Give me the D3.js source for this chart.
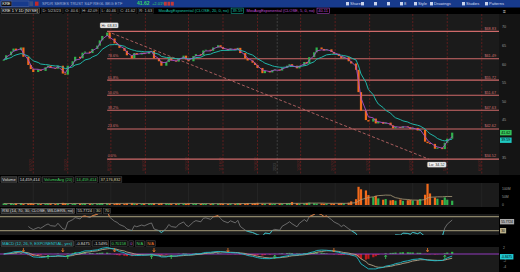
<!DOCTYPE html>
<html>
<head>
<meta charset="utf-8">
<script src="https://cdn.jsdelivr.net/npm/d3@7"></script>
<style>
  body { margin: 0; background: #000; }
  svg { display: block; }
  text { font-family: "Liberation Sans", Arial, sans-serif; }
</style>
</head>
<body>
<div id="chart"></div>
<script>
// closing prices, one bar per two sessions (5/24/22 .. 5/23/23)
var closes = [
  61.2, 62.4, 63.4, 64.2, 63.8, 64.5, 62.0, 59.8, 58.7, 57.9,
  58.6, 58.2, 59.2, 59.6, 59.0, 58.8, 59.6, 57.5, 57.2, 59.6,
  60.8, 62.0, 61.6, 63.1, 63.4, 63.0, 64.1, 65.0, 66.4, 67.6,
  68.5, 66.9, 65.6, 65.2, 64.4, 63.6, 62.4, 61.6, 63.0, 62.6,
  63.1, 62.8, 63.4, 63.6, 61.6, 60.8, 59.6, 60.6, 61.8, 61.0,
  60.7, 61.5, 62.3, 61.3, 60.8, 62.2, 62.7, 62.4, 63.7, 63.9,
  63.6, 64.5, 65.1, 64.6, 64.1, 63.7, 64.2, 63.8, 64.4, 63.0,
  61.6, 61.0, 60.4, 59.8, 59.0, 57.6, 58.2, 57.8, 58.4, 58.6,
  58.3, 59.0, 59.6, 60.0, 59.6, 58.9, 59.6, 60.6, 60.2, 61.9,
  63.2, 64.5, 64.1, 63.7, 64.0, 63.3, 62.8, 62.2, 61.6, 61.9,
  60.8, 60.2, 58.5, 52.5, 47.5, 45.0, 44.6, 45.4, 44.1, 44.5,
  44.0, 44.3, 43.6, 42.8, 43.2, 42.9, 43.3, 43.1, 42.6, 42.9,
  42.2, 42.4, 39.2, 38.8, 38.6, 37.3, 37.6, 37.2, 38.9, 40.0,
  41.62
];

// volume in millions, same bars
var volumes = [
  9, 8, 10, 7, 9, 11, 8, 10, 12, 9,
  8, 7, 9, 8, 10, 7, 9, 13, 11, 8,
  7, 9, 8, 10, 9, 7, 8, 9, 11, 12,
  10, 9, 8, 11, 9, 8, 10, 12, 9, 8,
  7, 9, 8, 10, 11, 9, 12, 10, 8, 9,
  8, 10, 9, 7, 11, 9, 8, 7, 9, 8,
  7, 9, 8, 10, 8, 7, 9, 8, 11, 10,
  9, 12, 10, 11, 13, 9, 8, 10, 7, 8,
  9, 8, 10, 12, 18, 11, 9, 10, 12, 14,
  11, 9, 10, 8, 9, 10, 9, 11, 12, 10,
  14, 22, 35, 110, 95, 88, 60, 48, 55, 40,
  32, 36, 28, 30, 26, 33, 25, 29, 31, 27,
  29, 35, 62, 128, 70, 45, 38, 30, 46, 32,
  26
];

// monthly expiration markers and year break
var expiries = ["2022-06-17", "2022-07-15", "2022-08-19", "2022-09-16", "2022-10-21", "2022-11-18",
  "2022-12-16", "2023-01-20", "2023-02-17", "2023-03-17", "2023-04-21", "2023-05-19", "2023-06-16"];
var expiryLabels = ["6/17/22", "7/15/22", "8/19/22", "9/16/22", "10/21/22", "11/18/22",
  "12/16/22", "1/20/23", "2/17/23", "3/17/23", "4/21/23", "5/19/23", "6/16/23"];
var yearBreak = "2023-01-01";

var priceTicks = [70, 65, 60, 55, 50, 45, 35];
var fibLevels = [1, 0.786, 0.618, 0.5, 0.382, 0.236, 0];
var fibNames = ["", "78.6%", "61.8%", "50.0%", "38.2%", "23.6%", "0.0%"];
var swingHigh = {date: "2022-08-16", price: 68.83};
var swingLow = {date: "2023-05-04", price: 34.52};

var W = 520, H = 272, plotRight = 499;
var upColor = "#2fb24c", downColor = "#f26a1b";

var parse = d3.timeParse("%Y-%m-%d");
var sessions = d3.timeDay.range(parse("2022-05-24"), parse("2023-05-24"))
    .filter(function(d) { var w = d.getDay(); return w > 0 && w < 6; });

var bars = closes.map(function(c, i) {
  return {date: sessions[i * 2], open: i ? closes[i - 1] : c, close: c, vol: volumes[i]};
});

// studies
function ema(vals, n) {
  var a = 2 / (n + 1), e, out = [];
  vals.forEach(function(v, i) { e = i ? e + a * (v - e) : v; out.push(e); });
  return out;
}
var ema20 = ema(closes, 10), ema5 = ema(closes, 2.5);
var ag = 0, al = 0, rsiN = 7;
bars.forEach(function(d, i) {
  d.ema20 = ema20[i]; d.ema5 = ema5[i];
  if (!i) { d.rsi = null; return; }
  var ch = closes[i] - closes[i - 1], g = Math.max(ch, 0), l = Math.max(-ch, 0);
  if (i <= rsiN) { ag += g / rsiN; al += l / rsiN; }
  else { ag = (ag * (rsiN - 1) + g) / rsiN; al = (al * (rsiN - 1) + l) / rsiN; }
  d.rsi = i < rsiN ? null : (al == 0 ? 100 : 100 - 100 / (1 + ag / al));
});
var fast = ema(closes, 6), slow = ema(closes, 13);
var macd = fast.map(function(f, i) { return f - slow[i]; });
var sig = ema(macd, 5);
bars.forEach(function(d, i) {
  d.macd = macd[i]; d.sig = sig[i]; d.hist = macd[i] - sig[i];
  d.volAvg = d3.mean(volumes.slice(Math.max(0, i - 9), i + 1));
});

var svg = d3.select("#chart").append("svg").attr("width", W).attr("height", H);
svg.append("rect").attr("width", W).attr("height", H).attr("fill", "#000");

var x = d3.scaleTime().domain([parse("2022-05-21"), parse("2023-06-30")]).range([0, plotRight]);
var bw = 2.2;

// boxed label helper, returns right edge
function tag(g, x0, y0, txt, color, border, bg, size) {
  var t = g.append("text").attr("x", x0 + 1.3).attr("y", y0).attr("dy", "0.35em")
      .attr("fill", color).style("font-size", (size || 4) + "px").text(txt);
  var w = t.node().getComputedTextLength();
  g.insert("rect", function() { return t.node(); })
      .attr("x", x0).attr("y", y0 - 2.7).attr("width", w + 2.6).attr("height", 5.4)
      .attr("fill", bg || "none").attr("stroke", border || "none").attr("stroke-width", 0.5);
  return x0 + w + 2.6;
}

// ---------- toolbar ----------
var tb = svg.append("g");
tb.append("rect").attr("width", W).attr("height", 7.5).attr("fill", "#173a8b");
tag(tb, 1, 3.7, "KRE", "#fff", "#56689a", "#0b0b0b");
tb.append("rect").attr("x", 1).attr("y", 1).attr("width", 28).attr("height", 5.4).attr("fill", "none").attr("stroke", "#56689a").attr("stroke-width", 0.5);
tb.append("rect").attr("x", 29.5).attr("y", 1.3).attr("width", 3.5).attr("height", 4.8).attr("fill", "#3c4f80");
tb.append("rect").attr("x", 35).attr("y", 1.6).attr("width", 3.5).attr("height", 4.2).attr("fill", "#c0282a");
tb.append("text").attr("x", 42).attr("y", 3.7).attr("dy", "0.35em").attr("fill", "#9fb0d8")
    .style("font-size", "4px").text("SPDR SERIES TRUST S&P REGL BKG ETF");
tb.append("text").attr("x", 137).attr("y", 3.7).attr("dy", "0.35em").attr("fill", "#3ad16a")
    .style("font-size", "5px").style("font-weight", "bold").text("41.62");
tb.append("text").attr("x", 152).attr("y", 3.7).attr("dy", "0.35em").attr("fill", "#3ad16a")
    .style("font-size", "4px").text("+2.01%");
[164, 167.5, 171].forEach(function(px) {
  tb.append("rect").attr("x", px).attr("y", 1.8).attr("width", 2.8).attr("height", 3.8).attr("fill", "#c23a3a");
});
var tools = [[350, "Share"], [365, ""], [378, ""], [391, ""], [404, "8"], [418, "Style"], [434, "Drawings"], [466, "Studies"], [489, "Patterns"]];
tools.forEach(function(t) {
  tb.append("rect").attr("x", t[0] - 4).attr("y", 2).attr("width", 3).attr("height", 3.4).attr("fill", "#c9d3ec");
  tb.append("text").attr("x", t[0]).attr("y", 3.7).attr("dy", "0.35em").attr("fill", "#d7def0")
      .style("font-size", "4px").text(t[1]);
});

// ---------- header row ----------
var hd = svg.append("g");
var hx = tag(hd, 1, 10.8, "KRE 1 Y 1D [NYSE]", "#e8e8e8", "#777", "#111");
var fields = ["D: 5/23/23", "O: 40.6", "H: 42.09", "L: 40.46", "C: 41.62", "R: 1.63"];
hx += 2;
fields.forEach(function(f) { hx = tag(hd, hx, 10.8, f, "#bdbdbd", "#333", "#0a0a0a") + 1.5; });
hx = tag(hd, hx + 2, 10.8, "MovAvgExponential (CLOSE, 20, 0, no)", "#19c2a8", null, null) + 1;
hx = tag(hd, hx, 10.8, "39.59", "#19c2a8", "#19c2a8", null) + 1.5;
hx = tag(hd, hx, 10.8, "MovAvgExponential (CLOSE, 5, 0, no)", "#c050d8", null, null) + 1;
tag(hd, hx, 10.8, "40.11", "#c050d8", "#c050d8", null);
hd.append("text").attr("x", 503).attr("y", 10.8).attr("dy", "0.35em").attr("fill", "#ddd").style("font-size", "5px").text("≡");

// ---------- main price panel ----------
var mainTop = 14, mainBot = 175;
var y = d3.scaleLinear().domain([35, 70]).range([157.3, 27]);
var main = svg.append("g");
main.append("rect").attr("x", 0).attr("y", mainTop).attr("width", plotRight).attr("height", mainBot - mainTop).attr("fill", "#1b1b1b");
main.append("rect").attr("x", plotRight).attr("y", mainTop).attr("width", W - plotRight).attr("height", mainBot - mainTop).attr("fill", "#141414");
svg.append("clipPath").attr("id", "clipMain").append("rect")
    .attr("x", 0).attr("y", mainTop).attr("width", plotRight).attr("height", mainBot - mainTop);
var plot = main.append("g").attr("clip-path", "url(#clipMain)");

// expiration lines
plot.selectAll(".exp").data(expiries).enter().append("line")
    .attr("x1", function(d) { return x(parse(d)); }).attr("x2", function(d) { return x(parse(d)); })
    .attr("y1", mainTop).attr("y2", mainBot)
    .attr("stroke", "#6e1e1e").attr("stroke-width", 0.8).attr("stroke-dasharray", "2,1.5");
plot.selectAll(".expLbl").data(expiries).enter().append("text")
    .attr("transform", function(d) { return "translate(" + (x(parse(d)) - 0.8) + ",171) rotate(-90)"; })
    .attr("fill", "#7a2424").style("font-size", "3.6px")
    .text(function(d, i) { return expiryLabels[i]; });
plot.append("line")
    .attr("x1", x(parse(yearBreak))).attr("x2", x(parse(yearBreak))).attr("y1", mainTop).attr("y2", mainBot)
    .attr("stroke", "#4a4a4a").attr("stroke-width", 0.8).attr("stroke-dasharray", "2,1.5");
plot.append("text")
    .attr("transform", "translate(" + (x(parse(yearBreak)) - 0.8) + ",171) rotate(-90)")
    .attr("fill", "#555").style("font-size", "3.6px").text("2023");

// fibonacci retracement
var range = swingHigh.price - swingLow.price;
var fibX0 = x(parse(swingHigh.date));
fibLevels.forEach(function(f, i) {
  var p = swingLow.price + f * range;
  plot.append("line").attr("x1", fibX0).attr("x2", plotRight).attr("y1", y(p)).attr("y2", y(p))
      .attr("stroke", "#cf6a6a").attr("stroke-width", 1.1);
  plot.append("text").attr("x", fibX0 + 0.5).attr("y", y(p) - 1.6).attr("fill", "#d07070")
      .style("font-size", "3.8px").text(fibNames[i]);
  plot.append("text").attr("x", plotRight - 3).attr("y", y(p) - 1.6).attr("text-anchor", "end")
      .attr("fill", "#d07070").style("font-size", "3.8px").text("$" + p.toFixed(2));
});
// trend line high -> low
plot.append("line")
    .attr("x1", x(parse(swingHigh.date))).attr("y1", y(swingHigh.price))
    .attr("x2", x(parse(swingLow.date))).attr("y2", y(swingLow.price))
    .attr("stroke", "#b86464").attr("stroke-width", 0.9).attr("stroke-dasharray", "3,2");

// candles
plot.selectAll(".c").data(bars).enter().append("rect")
    .attr("x", function(d) { return x(d.date) - bw / 2; })
    .attr("y", function(d) { return y(Math.max(d.open, d.close)); })
    .attr("width", bw)
    .attr("height", function(d) { return Math.max(0.9, Math.abs(y(d.open) - y(d.close))); })
    .attr("fill", function(d) { return d.close >= d.open ? upColor : downColor; });

// moving averages
plot.append("path").datum(bars)
    .attr("d", d3.line().x(function(d) { return x(d.date); }).y(function(d) { return y(d.ema20); }))
    .attr("fill", "none").attr("stroke", "#1fb5a8").attr("stroke-width", 1);
plot.append("path").datum(bars)
    .attr("d", d3.line().x(function(d) { return x(d.date); }).y(function(d) { return y(d.ema5); }))
    .attr("fill", "none").attr("stroke", "#a64cc8").attr("stroke-width", 0.9);

// hi / lo bubbles
function bubble(px, py, txt) {
  var g = main.append("g");
  var t = g.append("text").attr("x", px).attr("y", py).attr("dy", "0.35em").attr("text-anchor", "middle")
      .attr("fill", "#222").style("font-size", "3.8px").text(txt);
  var w = t.node().getComputedTextLength();
  g.insert("rect", function() { return t.node(); })
      .attr("x", px - w / 2 - 1.5).attr("y", py - 2.6).attr("width", w + 3).attr("height", 5.2)
      .attr("rx", 1).attr("fill", "#f2f2f2").attr("stroke", "#888").attr("stroke-width", 0.4);
}
bubble(x(parse(swingHigh.date)) + 2, y(swingHigh.price) - 6, "Hi: " + swingHigh.price.toFixed(2));
bubble(x(parse(swingLow.date)) + 8, y(swingLow.price) + 5.5, "Lo: " + swingLow.price.toFixed(2));

// price axis
main.selectAll(".pt").data(priceTicks).enter().append("text")
    .attr("x", 502).attr("y", function(d) { return y(d); }).attr("dy", "0.35em")
    .attr("fill", "#9a9a9a").style("font-size", "3.8px").text(function(d) { return d; });
tag(main, 500, y(41.62), "41.62", "#000", null, "#35c45a", 3.6);
tag(main, 500, y(39.59), "39.59", "#000", null, "#1fc8c0", 3.6);

// ---------- volume ----------
var volTop = 183, volBot = 207;
var yV = d3.scaleLinear().domain([0, 130]).range([205, 183.5]);
var vh = svg.append("g");
var vx = tag(vh, 1, 179.5, "Volume", "#ddd", "#666", "#2a2a2a") + 1.5;
vx = tag(vh, vx, 179.5, "14,459,414", "#ddd", "#555", "#111") + 1.5;
vx = tag(vh, vx, 179.5, "VolumeAvg (20)", "#3fcf5f", "#555", "#111") + 1.5;
vx = tag(vh, vx, 179.5, "14,459,414", "#3fcf5f", "#555", "#111") + 1.5;
tag(vh, vx, 179.5, "37,176,832", "#d8cfa0", "#555", "#111");

var vol = svg.append("g");
vol.append("rect").attr("x", 0).attr("y", volTop).attr("width", plotRight).attr("height", volBot - volTop).attr("fill", "#1b1b1b");
vol.selectAll(".eg").data(expiries).enter().append("line")
    .attr("x1", function(d) { return x(parse(d)); }).attr("x2", function(d) { return x(parse(d)); })
    .attr("y1", volTop).attr("y2", volBot).attr("stroke", "#2c2c2c").attr("stroke-width", 0.6);
vol.selectAll(".v").data(bars).enter().append("rect")
    .attr("x", function(d) { return x(d.date) - bw / 2; })
    .attr("y", function(d) { return yV(d.vol); })
    .attr("width", bw)
    .attr("height", function(d) { return yV(0) - yV(d.vol); })
    .attr("fill", function(d) { return d.close >= d.open ? upColor : downColor; });
vol.append("path").datum(bars)
    .attr("d", d3.line().x(function(d) { return x(d.date); }).y(function(d) { return yV(d.volAvg); }))
    .attr("fill", "none").attr("stroke", "#a89a78").attr("stroke-width", 0.8);
vol.selectAll(".vt").data([100, 50, 0]).enter().append("text")
    .attr("x", 502).attr("y", function(d) { return yV(d); }).attr("dy", "0.35em")
    .attr("fill", "#9a9a9a").style("font-size", "3.4px").text(function(d) { return d ? d + "M" : "0"; });

// ---------- RSI ----------
var rsiTop = 214, rsiBot = 235;
var yR = d3.scaleLinear().domain([30, 70]).range([230.7, 216.7]);
var rh = svg.append("g");
var rx = tag(rh, 1, 211, "RSI (14, 70, 30, CLOSE, WILDERS, no)", "#ddd", "#666", "#2a2a2a") + 1.5;
rx = tag(rh, rx, 211, "55.7724", "#ddd", "#555", "#111") + 1.5;
rx = tag(rh, rx, 211, "30", "#d8cfa0", "#555", "#111") + 1.5;
tag(rh, rx, 211, "70", "#d8cfa0", "#555", "#111");

var rs = svg.append("g");
rs.append("rect").attr("x", 0).attr("y", rsiTop).attr("width", plotRight).attr("height", rsiBot - rsiTop).attr("fill", "#1b1b1b");
[70, 30].forEach(function(lv) {
  rs.append("line").attr("x1", 0).attr("x2", plotRight).attr("y1", yR(lv)).attr("y2", yR(lv))
      .attr("stroke", "#8b8468").attr("stroke-width", 1.2);
});
var rsiLine = d3.line().defined(function(d) { return d.rsi != null; })
    .x(function(d) { return x(d.date); }).y(function(d) { return yR(d.rsi); });
svg.append("clipPath").attr("id", "clipRsi").append("rect").attr("x", 0).attr("y", rsiTop).attr("width", plotRight).attr("height", rsiBot - rsiTop);
svg.append("clipPath").attr("id", "clipOB").append("rect").attr("x", 0).attr("y", rsiTop).attr("width", plotRight).attr("height", yR(70) - rsiTop);
svg.append("clipPath").attr("id", "clipOS").append("rect").attr("x", 0).attr("y", yR(30)).attr("width", plotRight).attr("height", rsiBot - yR(30));
rs.append("path").datum(bars).attr("d", rsiLine).attr("clip-path", "url(#clipRsi)")
    .attr("fill", "none").attr("stroke", "#8d8d8d").attr("stroke-width", 0.7);
rs.append("path").datum(bars).attr("d", rsiLine).attr("clip-path", "url(#clipOB)")
    .attr("fill", "none").attr("stroke", "#f07a2a").attr("stroke-width", 0.8);
rs.append("path").datum(bars).attr("d", rsiLine).attr("clip-path", "url(#clipOS)")
    .attr("fill", "none").attr("stroke", "#1fc8d0").attr("stroke-width", 0.8);
tag(rs, 500, yR(55.77), "55.7724", "#000", null, "#aaa", 3.2);
tag(rs, 500, yR(30), "30", "#000", null, "#b8ae88", 3.2);

// ---------- MACD ----------
var macTop = 247, macBot = 272;
var yM = d3.scaleLinear().domain([-4, 2]).range([267, 247.5]);
var mh = svg.append("g");
var mx = tag(mh, 1, 243.5, "MACD (12, 26, 9, EXPONENTIAL, yes)", "#1fc8d0", "#666", "#2a2a2a") + 1.5;
mx = tag(mh, mx, 243.5, "-0.8475", "#ddd", "#555", "#111") + 1.5;
mx = tag(mh, mx, 243.5, "-1.5495", "#ddd", "#555", "#111") + 1.5;
mx = tag(mh, mx, 243.5, "0.70158", "#3fcf5f", "#555", "#111") + 1.5;
mx = tag(mh, mx, 243.5, "0", "#c050d8", "#555", "#111") + 1.5;
mx = tag(mh, mx, 243.5, "N/A", "#3fcf5f", "#555", "#111") + 1.5;
tag(mh, mx, 243.5, "N/A", "#f07a2a", "#555", "#111");

var mc = svg.append("g");
mc.append("rect").attr("x", 0).attr("y", macTop).attr("width", plotRight).attr("height", macBot - macTop).attr("fill", "#1b1b1b");
mc.selectAll(".h").data(bars).enter().append("rect")
    .attr("x", function(d) { return x(d.date) - bw / 2; })
    .attr("y", function(d) { return Math.min(yM(0), yM(d.hist)); })
    .attr("width", bw)
    .attr("height", function(d) { return Math.abs(yM(d.hist) - yM(0)); })
    .attr("fill", function(d) { return d.hist >= 0 ? "#23c43a" : "#c01a1a"; });
mc.append("line").attr("x1", 0).attr("x2", plotRight).attr("y1", yM(0)).attr("y2", yM(0))
    .attr("stroke", "#a040d0").attr("stroke-width", 0.9);
mc.append("path").datum(bars)
    .attr("d", d3.line().x(function(d) { return x(d.date); }).y(function(d) { return yM(d.sig); }))
    .attr("fill", "none").attr("stroke", "#b4a68a").attr("stroke-width", 0.9);
mc.append("path").datum(bars)
    .attr("d", d3.line().x(function(d) { return x(d.date); }).y(function(d) { return yM(d.macd); }))
    .attr("fill", "none").attr("stroke", "#1fc0cc").attr("stroke-width", 0.9);
// crossover arrows
bars.forEach(function(d, i) {
  if (!i) return;
  var prev = bars[i - 1].hist, px = x(d.date);
  if (prev > 0 && d.hist <= 0) {
    mc.append("path").attr("d", "M" + px + "," + (yM(0) - 6) + "V" + (yM(0) - 2.5) + "M" + (px - 1.2) + "," + (yM(0) - 3.8) + "L" + px + "," + (yM(0) - 2) + "L" + (px + 1.2) + "," + (yM(0) - 3.8))
        .attr("fill", "none").attr("stroke", "#f07a2a").attr("stroke-width", 0.8);
  } else if (prev < 0 && d.hist >= 0) {
    mc.append("path").attr("d", "M" + px + "," + (yM(0) + 5) + "V" + (yM(0) + 1.5) + "M" + (px - 1.2) + "," + (yM(0) + 2.8) + "L" + px + "," + (yM(0) + 1) + "L" + (px + 1.2) + "," + (yM(0) + 2.8))
        .attr("fill", "none").attr("stroke", "#3fcf5f").attr("stroke-width", 0.8);
  }
});
mc.selectAll(".mt").data([2, -2, -4]).enter().append("text")
    .attr("x", 503).attr("y", function(d) { return yM(d); }).attr("dy", "0.35em")
    .attr("fill", "#9a9a9a").style("font-size", "3.4px").text(function(d) { return d; });
tag(mc, 500, yM(-0.8475), "-0.8475", "#000", null, "#1fc8d0", 3.2);
</script>
</body>
</html>
